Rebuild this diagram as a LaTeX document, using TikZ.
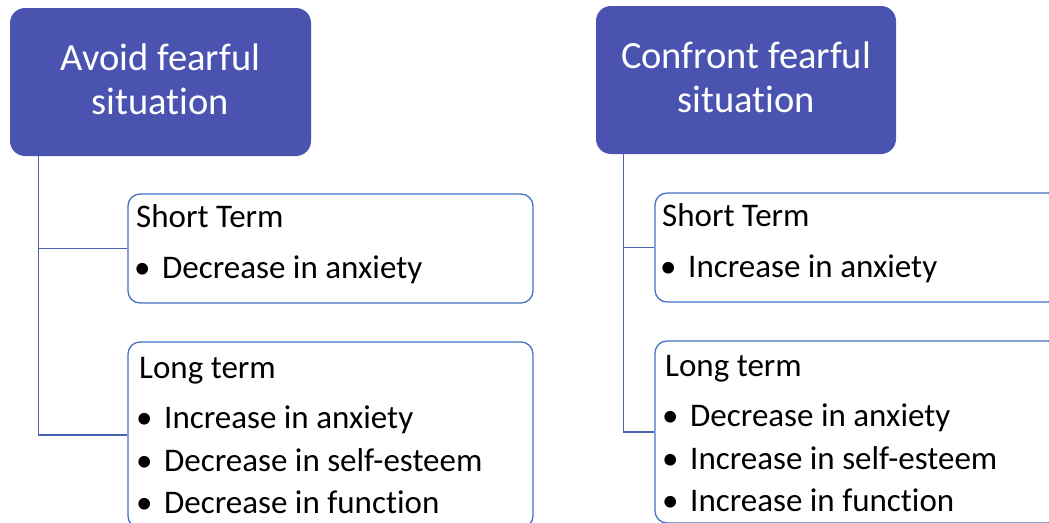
\documentclass[tikz,border=0pt]{standalone}
\usepackage{fontspec}
\setmainfont{Carlito}[RawFeature={-liga;-clig;-calt;-dlig}]
\definecolor{headfill}{HTML}{4A53B0}
\definecolor{boxline}{HTML}{4472C4}
\definecolor{conn}{HTML}{4A62B0}
\newcommand{\bul}{\makebox[28pt][l]{•}}
\tikzset{
  headbox/.style={draw=none, fill=headfill, rounded corners=15pt, inner sep=0pt},
  termbox/.style={draw=boxline, line width=1.3pt, fill=white, rounded corners=12pt, inner sep=0pt},
  headtext/.style={text=white, font=\fontsize{38.5}{44}\selectfont, align=center, inner sep=0pt},
  item/.style={anchor=base west, inner sep=0pt, font=\fontsize{33}{40}\selectfont},
  connector/.style={draw=conn, line width=1.3pt}
}
\begin{document}
\begin{tikzpicture}[x=1pt,y=-1pt]
\useasboundingbox (0,0) rectangle (1049,522);
% headline boxes
\node[headbox, minimum width=301pt, minimum height=148pt] (h1) at (160.5,82) {};
\node[headbox, minimum width=300pt, minimum height=148pt] (h2) at (746,80) {};
\node[headtext] (h1t) at (160.5,79) {Avoid fearful\\situation};
\node[headtext] (h2t) at (746,77) {Confront fearful\\situation};
% term boxes
\node[termbox, minimum width=405pt, minimum height=109pt] (s1) at (330.5,248.5) {};
\node[termbox, minimum width=405pt, minimum height=186pt] (l1) at (330.5,435) {};
\node[termbox, minimum width=405pt, minimum height=109pt] (s2) at (857.5,247.5) {};
\node[termbox, minimum width=405pt, minimum height=182pt] (l2) at (857.5,432) {};
% connectors
\coordinate (t1) at ([xshift=29pt]h1.south west);
\coordinate (t2) at ([xshift=28pt]h2.south west);
\draw[connector] (t1) |- (s1.west);
\draw[connector] (t1) |- (l1.west);
\draw[connector] (t2) |- (s2.west);
\draw[connector] (t2) |- (l2.west);
% left texts
\node[item] (a1) at (136,227) {Short Term};
\node[item] (a2) at (134,278) {\bul Decrease in anxiety};
\node[item] (a3) at (139,378) {Long term};
\node[item] (a4) at (136,428) {\bul Increase in anxiety};
\node[item] (a5) at (136,471) {\bul Decrease in self-esteem};
\node[item] (a6) at (136,513) {\bul Decrease in function};
% right texts
\node[item] (b1) at (662,226) {Short Term};
\node[item] (b2) at (660,277) {\bul Increase in anxiety};
\node[item] (b3) at (665,376) {Long term};
\node[item] (b4) at (662,426) {\bul Decrease in anxiety};
\node[item] (b5) at (662,469) {\bul Increase in self-esteem};
\node[item] (b6) at (662,511) {\bul Increase in function};
\end{tikzpicture}
\end{document}
